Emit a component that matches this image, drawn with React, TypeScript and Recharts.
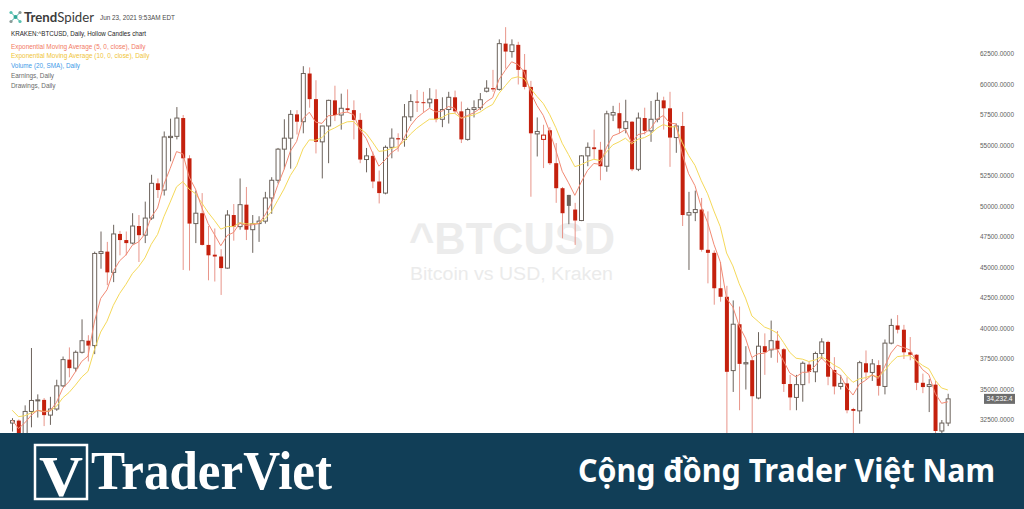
import React from 'react';
import { ComposedChart, Bar, Line, XAxis, YAxis } from 'recharts';

// Daily candles, KRAKEN:^BTCUSD, Jan 26 2021 .. Jun 23 2021
const START_DATE = '2021-01-26';

const opens = [
  32250, 32450, 30400, 33200, 34100, 34150, 32900, 33400, 35300, 37450,
  36750, 38050, 39000, 38600, 46150, 46300, 44600, 47750, 47250, 47000,
  48400, 47650, 49050, 51900, 51350, 55650, 55750, 57250, 53950, 48600,
  49450, 46850, 46050, 45900, 44950, 49300, 48350, 50150, 48100, 48600,
  48800, 50700, 52150, 54700, 55600, 57550, 56950, 60900, 58800, 55300,
  56600, 58700, 57500, 58050, 57900, 57100, 53850, 54150, 52050, 51100,
  54850, 55600, 55500, 57350, 58600, 58550, 58500, 58800, 57150, 57950,
  58950, 57800, 55500, 57950, 58100, 59450, 59700, 59600, 63350, 62700,
  63250, 61200, 59800, 55950, 55500, 56250, 53550, 51500, 50950, 49750,
  48850, 54150, 54850, 54650, 53300, 57500, 57650, 56400, 56950, 53050,
  57250, 56200, 57150, 58700, 58050, 55650, 56600, 49300, 49500, 49750,
  46450, 46200, 43300, 42600, 36550, 40350, 37100, 37400, 34300, 38550,
  38250, 39000, 38300, 35450, 34350, 35400, 37050, 36450, 37950, 38900,
  36600, 35250, 35500, 33400, 33250, 37150, 36400, 37000, 35250, 38800,
  40250, 39900, 38050, 37850, 35550, 35250, 35400, 31600, 32250,
];
const highs = [
  32650, 32550, 33700, 38400, 34600, 34300, 34400, 35800, 37700, 38450,
  38200, 40750, 39450, 46300, 47950, 47100, 48500, 48000, 47950, 49450,
  49300, 50400, 52600, 52300, 56150, 57200, 58150, 57500, 54200, 51300,
  51100, 48400, 48200, 46500, 49700, 50200, 52300, 51600, 49300, 49200,
  51200, 52400, 54800, 57150, 57900, 57900, 61500, 61400, 60350, 56600,
  58750, 59900, 59250, 59600, 58700, 57650, 54800, 54500, 52950, 55000,
  56400, 56000, 58400, 59200, 59550, 59400, 59700, 59600, 58950, 59400,
  59500, 58600, 58100, 58700, 59300, 60350, 61200, 63700, 64700, 63700,
  63500, 62500, 60300, 57300, 56700, 56500, 55200, 51600, 50950, 50300,
  54200, 55250, 56300, 55300, 57850, 58250, 58500, 58750, 57000, 57700,
  58100, 58650, 59350, 59000, 59400, 56800, 57750, 51200, 51300, 50700,
  49600, 46400, 45450, 43500, 42300, 41800, 38550, 37600, 39700, 39600,
  40650, 39800, 38400, 36200, 36200, 37300, 37300, 38100, 39200, 39000,
  37650, 36200, 36000, 33500, 37350, 38200, 37500, 37400, 39100, 40800,
  41100, 40300, 39300, 37900, 36300, 35850, 35700, 32500, 34650,
];
const lows = [
  31550, 29300, 29900, 31900, 32700, 32000, 32100, 33250, 35200, 36000,
  36450, 37950, 37300, 37900, 44900, 43550, 43800, 46000, 46000, 46900,
  45450, 47000, 48900, 50700, 50900, 53700, 55500, 44800, 44750, 47000,
  46800, 43950, 43850, 42750, 44900, 47200, 48100, 47250, 46200, 47100,
  48600, 49400, 51900, 53050, 53100, 55900, 56000, 58100, 54350, 52300,
  53550, 57000, 56300, 57700, 55500, 53550, 52800, 51500, 50250, 51000,
  53950, 54500, 54900, 57000, 57750, 57750, 58100, 56900, 56500, 56800,
  57600, 55200, 55400, 57300, 57900, 59350, 59400, 59500, 61300, 62200,
  60000, 59600, 50800, 54100, 53150, 53400, 50300, 47400, 48550, 46850,
  48800, 53300, 53900, 52150, 52850, 57000, 56000, 56000, 52900, 52900,
  55900, 55300, 56900, 56300, 53250, 54400, 48400, 44800, 48800, 46300,
  43700, 41950, 42200, 30000, 34800, 33300, 35000, 31100, 34200, 36200,
  37600, 37200, 34800, 33300, 33300, 34000, 35500, 35600, 37500, 35350,
  34600, 35000, 33050, 31000, 32200, 35800, 35700, 34500, 34600, 38700,
  39600, 37500, 37400, 34950, 34700, 33150, 31300, 28800, 32000,
];
const closes = [
  32450, 30400, 33200, 34100, 34150, 32900, 33400, 35300, 37450, 36750,
  38050, 39000, 38600, 46150, 46300, 44600, 47750, 47250, 47000, 48400,
  47650, 49050, 51900, 51350, 55700, 55750, 57250, 53950, 48600, 49450,
  46850, 46000, 45900, 44950, 49300, 48350, 50150, 48100, 48600, 48800,
  50700, 52150, 54700, 55600, 57550, 56950, 60900, 58800, 55300, 56600,
  58700, 57500, 58050, 57900, 57100, 53850, 54150, 52050, 51100, 54850,
  55600, 55500, 57350, 58600, 58550, 58500, 58800, 57150, 57950, 58950,
  57800, 55500, 57950, 58100, 58750, 59700, 59600, 63350, 62700, 63250,
  61200, 59800, 56000, 56150, 55850, 53550, 51500, 49450, 50050, 48850,
  54150, 54850, 54700, 53300, 57600, 57700, 56400, 56950, 53050, 57250,
  56200, 57150, 58700, 58050, 55650, 56600, 49300, 49500, 49750, 46450,
  46200, 43300, 42600, 36450, 40350, 37100, 37200, 34450, 38550, 38050,
  39000, 38300, 35450, 34350, 35400, 37150, 36450, 37950, 38900, 36050,
  35250, 35500, 33300, 33250, 37200, 36400, 37100, 35300, 38800, 40250,
  39900, 38050, 37850, 35550, 35200, 35400, 31600, 32250, 34232.4,
];

// EMA starting values at the first candle
const EMA5_START = 32500;
const EMA10_START = 33300;

const yTicks = [32500, 35000, 37500, 40000, 42500, 45000, 47500, 50000, 52500, 55000, 57500, 60000, 62500];
const LAST_PRICE_LABEL = '34,232.4';

const legendLines = [
  { text: 'KRAKEN:^BTCUSD, Daily, Hollow Candles chart', color: '#262626', w: 135 },
  { text: 'Exponential Moving Average (5, 0, close), Daily', color: '#f27a63', w: 134.5 },
  { text: 'Exponential Moving Average (10, 0, close), Daily', color: '#f0c537', w: 138.5 },
  { text: 'Volume (20, SMA), Daily', color: '#3e9ae8', w: 69 },
  { text: 'Earnings, Daily', color: '#6a6a6a', w: 43 },
  { text: 'Drawings, Daily', color: '#6a6a6a', w: 44.5 },
];

const W = 1024;
const H = 509;
const Y_MAX = 66926;
const Y_MIN = 25205;

const GRAY = '#6c635c';
const RED = '#c4200d';
const PINK = '#e8958a';

function ema(values: number[], period: number, start: number) {
  const k = 2 / (period + 1);
  const out: number[] = [start];
  for (let i = 1; i < values.length; i++) out.push(out[i - 1] + k * (values[i] - out[i - 1]));
  return out;
}

const ema5 = ema(closes, 5, EMA5_START);
const ema10 = ema(closes, 10, EMA10_START);

function dateLabel(i: number) {
  const d = new Date(START_DATE + 'T00:00:00Z');
  d.setUTCDate(d.getUTCDate() + i);
  return d.toISOString().slice(0, 10);
}

const data = opens.map((o, i) => ({
  date: dateLabel(i),
  o,
  h: highs[i],
  l: lows[i],
  c: closes[i],
  prev: i > 0 ? closes[i - 1] : o,
  range: [lows[i], highs[i]],
  ema5: ema5[i],
  ema10: ema10[i],
}));

const Candle = (props: any) => {
  const { x, y, width, height, payload } = props;
  if (!payload) return null;
  const { o, h, l, c, prev } = payload;
  const top = Math.min(y, y + height);
  const hh = Math.abs(height);
  const cx = x + width / 2;
  const scale = hh / (h - l || 1);
  const py = (p: number) => top + (h - p) * scale;
  const up = c >= prev;
  const hollow = c > o;
  const col = up ? GRAY : RED;
  const wick = up ? GRAY : PINK;
  const bt = py(Math.max(o, c));
  const bb = py(Math.min(o, c));
  const bh = Math.max(bb - bt, 1);
  return (
    <g>
      <line x1={cx} x2={cx} y1={top} y2={top + hh} stroke={wick} strokeWidth={1} />
      {hollow ? (
        <rect x={cx - 2} y={bt} width={4} height={bh} fill="#ffffff" stroke={col} strokeWidth={1} />
      ) : (
        <rect x={cx - 2} y={bt} width={4} height={bh} fill={col} />
      )}
    </g>
  );
};

const AxisTick = (props: any) => {
  const { y, payload } = props;
  return (
    <text x={980} y={y + 2.3} fontSize={6.6} fill="#5e5e5e" fontFamily="Liberation Sans, Arial, sans-serif" textLength={34} lengthAdjust="spacingAndGlyphs">
      {Number(payload.value).toFixed(4)}
    </text>
  );
};

const priceY = (p: number) => ((Y_MAX - p) / (Y_MAX - Y_MIN)) * H;

export default function App() {
  const lastY = priceY(closes[closes.length - 1]);
  return (
    <div style={{ position: 'fixed', left: 0, top: 0, width: W, height: H, background: '#ffffff', overflow: 'hidden' }}>
      {/* background: header, legend, watermark */}
      <svg width={W} height={H} style={{ position: 'absolute', left: 0, top: 0 }}>
        <g stroke="#46b3a3" strokeWidth={1}>
          <line x1={15.5} y1={17} x2={11} y2={12.5} />
          <line x1={15.5} y1={17} x2={20} y2={12.5} />
          <line x1={15.5} y1={17} x2={11} y2={21.5} />
          <line x1={15.5} y1={17} x2={20} y2={21.5} />
        </g>
        <circle cx={15.5} cy={17} r={2} fill="#2fa898" />
        <circle cx={11} cy={12.5} r={1.6} fill="#56c1b0" />
        <circle cx={20} cy={12.5} r={1.6} fill="#8a9a98" />
        <circle cx={11} cy={21.5} r={1.6} fill="#8a9a98" />
        <circle cx={20} cy={21.5} r={1.6} fill="#56c1b0" />
        <text x={24} y={21.5} fontSize={13} fill="#3b3b3b" fontFamily="Lato, Liberation Sans, sans-serif" textLength={70} lengthAdjust="spacingAndGlyphs">
          <tspan fontWeight="bold">Trend</tspan>
          <tspan fontWeight="normal">Spider</tspan>
        </text>
        <text x={100} y={19.5} fontSize={6.8} fill="#4a4a4a" fontFamily="Liberation Sans, Arial, sans-serif" textLength={75} lengthAdjust="spacingAndGlyphs">
          Jun 23, 2021 9:53AM EDT
        </text>
        {legendLines.map((ln, k) => (
          <text
            key={k}
            x={11}
            y={k === 0 ? 35.8 : 48.5 + (k - 1) * 9.9}
            fontSize={6.4}
            fill={ln.color}
            fontFamily="Liberation Sans, Arial, sans-serif"
            textLength={ln.w}
            lengthAdjust="spacingAndGlyphs"
          >
            {ln.text}
          </text>
        ))}
        <text x={409} y={254} fontSize={44} fontWeight="bold" fill="#ececec" fontFamily="Liberation Sans, Arial, sans-serif" textLength={206} lengthAdjust="spacingAndGlyphs">
          ^BTCUSD
        </text>
        <text x={410} y={280} fontSize={18} fill="#ebebeb" fontFamily="Liberation Sans, Arial, sans-serif" textLength={203} lengthAdjust="spacingAndGlyphs">
          Bitcoin vs USD, Kraken
        </text>
      </svg>

      <div style={{ position: 'absolute', left: 0, top: 0 }}>
        <ComposedChart width={W} height={H} data={data} margin={{ top: 0, right: 0, bottom: 0, left: 9 }}>
          <XAxis dataKey="date" hide />
          <YAxis
            orientation="right"
            width={73}
            domain={[Y_MIN, Y_MAX]}
            ticks={yTicks}
            tick={<AxisTick />}
            axisLine={false}
            tickLine={false}
            allowDataOverflow
            interval={0}
          />
          <Bar dataKey="range" barSize={5} shape={<Candle />} isAnimationActive={false} />
          <Line dataKey="ema10" stroke="#f5d95a" strokeWidth={1} dot={false} isAnimationActive={false} />
          <Line dataKey="ema5" stroke="#f28a74" strokeWidth={1} dot={false} isAnimationActive={false} />
        </ComposedChart>
      </div>

      {/* overlay: last price label and banner */}
      <svg width={W} height={H} style={{ position: 'absolute', left: 0, top: 0 }}>
        <rect x={984} y={lastY - 5} width={31} height={10} fill="#6d6d6d" />
        <text x={999.5} y={lastY + 2.3} fontSize={6.6} fill="#ffffff" textAnchor="middle" fontFamily="Liberation Sans, Arial, sans-serif" textLength={26} lengthAdjust="spacingAndGlyphs">
          {LAST_PRICE_LABEL}
        </text>
        <rect x={0} y={433} width={W} height={H - 433} fill="#113e57" />
        <rect x={35} y={445} width={52} height={54} fill="none" stroke="#ffffff" strokeWidth={2.5} />
        <text x={39} y={496} fontSize={58} fontWeight="bold" fill="#ffffff" fontFamily="Liberation Serif, serif" textLength={44} lengthAdjust="spacingAndGlyphs">
          V
        </text>
        <text x={91} y={489} fontSize={55} fontWeight="bold" fill="#ffffff" fontFamily="Liberation Serif, serif" textLength={241} lengthAdjust="spacingAndGlyphs">
          TraderViet
        </text>
        <text x={578} y={482} fontSize={32} fontWeight="bold" fill="#ffffff" fontFamily="Noto Sans, Liberation Sans, sans-serif" textLength={417} lengthAdjust="spacingAndGlyphs">
          Cộng đồng Trader Việt Nam
        </text>
      </svg>
    </div>
  );
}
